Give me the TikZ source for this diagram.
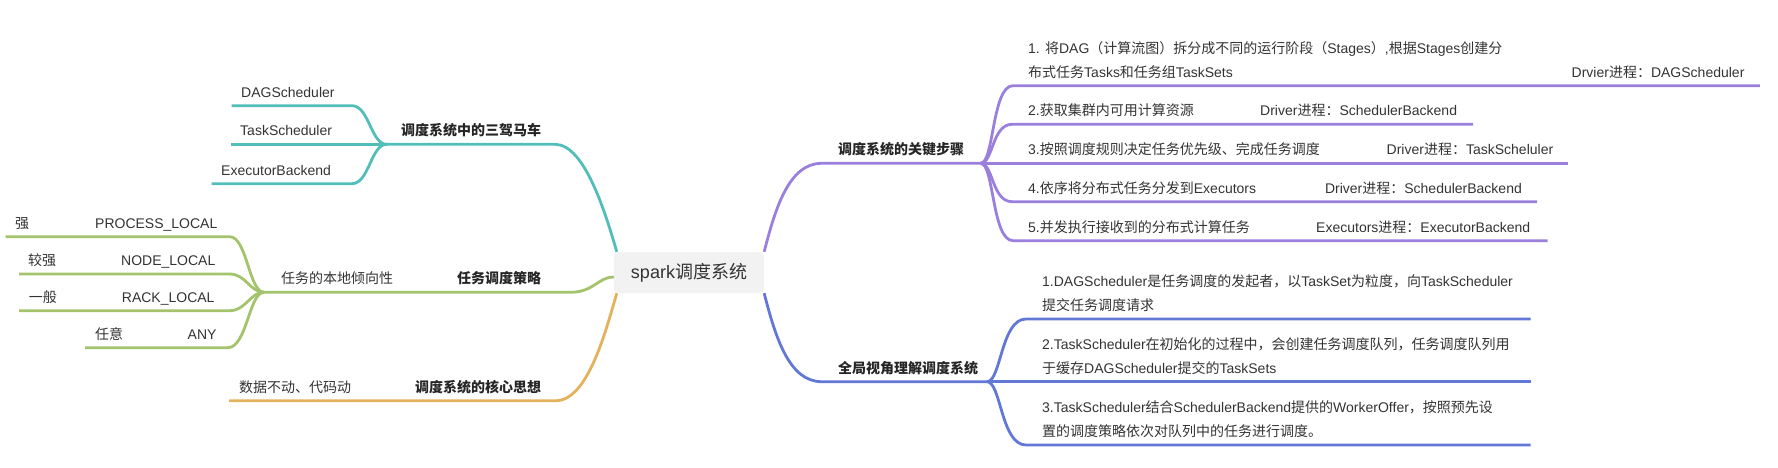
\documentclass[tikz,border=0pt]{standalone}
\usepackage{fontspec}
\setmainfont{Liberation Sans}
\newfontfamily\cjkfont{Noto Sans CJK SC}
\XeTeXinterchartokenstate=1
\newXeTeXintercharclass\CJKclass
\newcount\cjkcnt
\def\setcjkrange#1#2{\cjkcnt=#1\relax
  \loop
    \XeTeXcharclass\cjkcnt=\CJKclass
  \ifnum\cjkcnt<#2\relax\advance\cjkcnt by 1\relax\repeat}
\setcjkrange{"3000}{"303F}
\setcjkrange{"4E00}{"9FFF}
\setcjkrange{"FF00}{"FFEF}
\XeTeXinterchartoks 0 \CJKclass = {\cjkfont}
\XeTeXinterchartoks 4095 \CJKclass = {\cjkfont}
\XeTeXinterchartoks \CJKclass 0 = {\rmfamily}
\XeTeXinterchartoks 4095 0 = {\rmfamily}
\definecolor{cteal}{HTML}{52BEB9}
\definecolor{cgreen}{HTML}{A3C46C}
\definecolor{corange}{HTML}{E4B25A}
\definecolor{cpurple}{HTML}{9A80DC}
\definecolor{cblue}{HTML}{6278D6}
\definecolor{txtgray}{HTML}{333333}
\definecolor{boxgray}{HTML}{F2F2F2}
\begin{document}
\begin{tikzpicture}[x=1pt,y=-1pt,
  txt/.style={anchor=base west, inner sep=0pt, text=txtgray, align=left, font=\fontsize{14}{24}\selectfont},
  btxt/.style={txt, text=black!85, font=\fontsize{14}{24}\selectfont\bfseries},
  branch/.style={line width=2.8pt, line join=round},
  tealline/.style={branch, draw=cteal},
  greenline/.style={branch, draw=cgreen},
  orangeline/.style={branch, draw=corange},
  purpleline/.style={branch, draw=cpurple},
  blueline/.style={branch, draw=cblue},
  rootbox/.style={fill=boxgray, rounded corners=4pt, minimum width=150pt, minimum height=41pt, inner sep=0pt, text=txtgray, font=\fontsize{18}{20}\selectfont}]
\useasboundingbox (0,0) rectangle (1778,468);
\node[rootbox] (root) at (689,272.5) {spark调度系统};
% junctions
\coordinate (tj) at (386.5,144.3);
\coordinate (gj) at (264,292.3);
\coordinate (pj) at (980.7,163.3);
\coordinate (bj) at (987,381.7);
% ---------------- teal
\node[btxt] (t0) at (401,135.8) {调度系统中的三驾马车};
\coordinate (t0r) at (555,144.3);
\draw[tealline] (tj) -- (t0r) .. controls (585,144.3) and (606,215) .. ([xshift=3pt]root.north west);
\node[txt] (t1) at (241,97.2) {DAGScheduler};
\coordinate (t1l) at (231.5,105.7); \coordinate (t1r) at (352,105.7);
\draw[tealline] (t1l) -- (t1r) .. controls (369,105.7) and (371,144.3) .. (tj);
\node[txt] (t2) at (240,135.8) {TaskScheduler};
\coordinate (t2l) at (230.8,144.3);
\draw[tealline] (t2l) -- (tj);
\node[txt] (t3) at (221,175.2) {ExecutorBackend};
\coordinate (t3l) at (211.6,183.7); \coordinate (t3r) at (352,183.7);
\draw[tealline] (t3l) -- (t3r) .. controls (369,183.7) and (371,144.3) .. (tj);
% ---------------- green
\node[btxt] (g0) at (457,283.8) {任务调度策略};
\coordinate (g0r) at (570,292.3);
\draw[greenline] (gj) -- (g0r) .. controls (594,292.3) and (598,277) .. ([yshift=-4.5pt]root.west);
\node[txt] (g1) at (281,283.8) {任务的本地倾向性};
\node[txt] (g11) at (95,228.2) {PROCESS\_LOCAL};
\node[txt] (g111) at (15,228.2) {强};
\coordinate (g11a) at (5.7,236.7); \coordinate (g11b) at (229.6,236.7);
\draw[greenline] (g11a) -- (g11b) .. controls (247,236.7) and (249,292.3) .. (gj);
\node[txt] (g12) at (121,265.5) {NODE\_LOCAL};
\node[txt] (g121) at (28,265.5) {较强};
\coordinate (g12a) at (19,274); \coordinate (g12b) at (229.6,274);
\draw[greenline] (g12a) -- (g12b) .. controls (246,274) and (250,292.3) .. (gj);
\node[txt] (g13) at (121.7,302.2) {RACK\_LOCAL};
\node[txt] (g131) at (28.7,302.2) {一般};
\coordinate (g13a) at (19,310.7); \coordinate (g13b) at (229.6,310.7);
\draw[greenline] (g13a) -- (g13b) .. controls (246,310.7) and (250,292.3) .. (gj);
\node[txt] (g14) at (187.5,339.2) {ANY};
\node[txt] (g141) at (95,339.2) {任意};
\coordinate (g14a) at (85,347.7); \coordinate (g14b) at (227.7,347.7);
\draw[greenline] (g14a) -- (g14b) .. controls (247,347.7) and (249,292.3) .. (gj);
% ---------------- orange
\node[btxt] (o0) at (415,392.2) {调度系统的核心思想};
\node[txt] (o1) at (238.8,392.2) {数据不动、代码动};
\coordinate (o1l) at (229,400.7); \coordinate (o0r) at (555.8,400.7);
\draw[orangeline] (o1l) -- (o0r) .. controls (588,400.7) and (606,330) .. ([xshift=3pt]root.south west);
% ---------------- purple
\node[btxt] (p0) at (838,154.8) {调度系统的关键步骤};
\coordinate (p0l) at (821.7,163.3);
\draw[purpleline] (root.north east) .. controls (776,205) and (790,163.3) .. (p0l) -- (pj);
\node[txt] (p1) at (1028,77.2) {1. 将DAG（计算流图）拆分成不同的运行阶段（Stages）,根据Stages创建分\\布式任务Tasks和任务组TaskSets};
\node[txt] (p1s) at (1571.5,77.2) {Drvier进程：DAGScheduler};
\coordinate (p1a) at (1013,85.7); \coordinate (p1b) at (1759.8,85.7);
\draw[purpleline] (pj) .. controls (994,163.3) and (992,85.7) .. (p1a) -- (p1b);
\node[txt] (p2) at (1028,115.8) {2.获取集群内可用计算资源};
\node[txt] (p2s) at (1260,115.8) {Driver进程：SchedulerBackend};
\coordinate (p2a) at (1012,124.3); \coordinate (p2b) at (1473,124.3);
\draw[purpleline] (pj) .. controls (993,163.3) and (992,124.3) .. (p2a) -- (p2b);
\node[txt] (p3) at (1028,154.8) {3.按照调度规则决定任务优先级、完成任务调度};
\node[txt] (p3s) at (1386.5,154.8) {Driver进程：TaskScheluler};
\coordinate (p3b) at (1568,163.3);
\draw[purpleline] (pj) -- (p3b);
\node[txt] (p4) at (1028,193.2) {4.依序将分布式任务分发到Executors};
\node[txt] (p4s) at (1324.8,193.2) {Driver进程：SchedulerBackend};
\coordinate (p4a) at (1012,201.7); \coordinate (p4b) at (1537,201.7);
\draw[purpleline] (pj) .. controls (993,163.3) and (992,201.7) .. (p4a) -- (p4b);
\node[txt] (p5) at (1028,232.2) {5.并发执行接收到的分布式计算任务};
\node[txt] (p5s) at (1316,232.2) {Executors进程：ExecutorBackend};
\coordinate (p5a) at (1013,240.7); \coordinate (p5b) at (1547.5,240.7);
\draw[purpleline] (pj) .. controls (994,163.3) and (992,240.7) .. (p5a) -- (p5b);
% ---------------- blue
\node[btxt] (b0) at (838,373.2) {全局视角理解调度系统};
\coordinate (b0l) at (821.7,381.7);
\draw[blueline] (root.south east) .. controls (776,340) and (790,381.7) .. (b0l) -- (bj);
\node[txt] (b1) at (1042,310.5) {1.DAGScheduler是任务调度的发起者，以TaskSet为粒度，向TaskScheduler\\提交任务调度请求};
\coordinate (b1a) at (1026,319); \coordinate (b1b) at (1530.6,319);
\draw[blueline] (bj) .. controls (1001,381.7) and (1001,319) .. (b1a) -- (b1b);
\node[txt] (b2) at (1042,373.2) {2.TaskScheduler在初始化的过程中，会创建任务调度队列，任务调度队列用\\于缓存DAGScheduler提交的TaskSets};
\coordinate (b2b) at (1530.6,381.7);
\draw[blueline] (bj) -- (b2b);
\node[txt] (b3) at (1042,436.5) {3.TaskScheduler结合SchedulerBackend提供的WorkerOffer，按照预先设\\置的调度策略依次对队列中的任务进行调度。};
\coordinate (b3a) at (1026,445); \coordinate (b3b) at (1530.6,445);
\draw[blueline] (bj) .. controls (1001,381.7) and (1001,445) .. (b3a) -- (b3b);
\end{tikzpicture}
\end{document}
